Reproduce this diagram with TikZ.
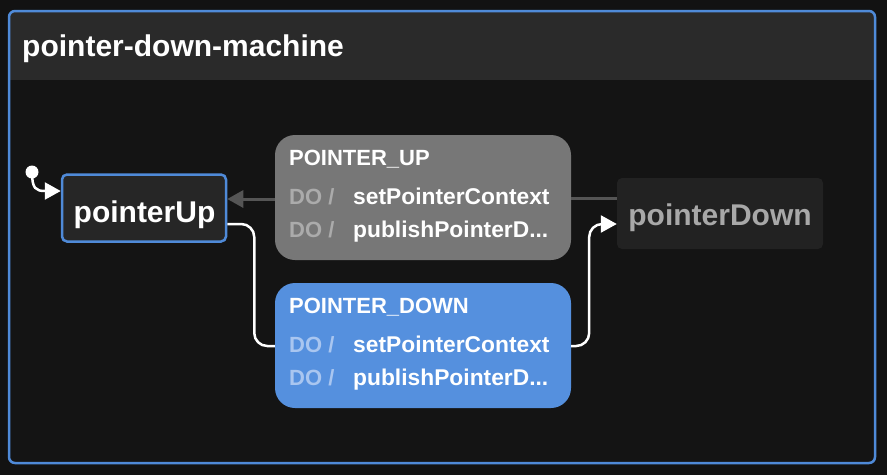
\documentclass[tikz,border=0pt]{standalone}
\usepackage{fontspec}
\setmainfont{Liberation Sans}
\usetikzlibrary{arrows.meta}
\definecolor{pagebg}{HTML}{121212}
\definecolor{bodybg}{HTML}{141414}
\definecolor{headbg}{HTML}{2A2A2A}
\definecolor{frameblue}{HTML}{4F8AD8}
\definecolor{evblue}{HTML}{5590DE}
\definecolor{evgray}{HTML}{777777}
\definecolor{stateA}{HTML}{262626}
\definecolor{stateB}{HTML}{222222}
\definecolor{dimtext}{HTML}{A8A8A8}
\definecolor{dogray}{HTML}{ABABAB}
\definecolor{doblue}{HTML}{A9C6F0}
\definecolor{conngray}{HTML}{555555}
\tikzset{
  bigf/.style={font=\fontsize{30}{35}\selectfont\bfseries, inner sep=0pt},
  smallf/.style={font=\fontsize{22}{26}\selectfont\bfseries, inner sep=0pt},
  actf/.style={font=\fontsize{22.8}{27}\selectfont\bfseries, inner sep=0pt},
  activestate/.style={rectangle, rounded corners=5pt, fill=stateA, draw=frameblue, line width=2.5pt, minimum width=164pt, minimum height=67pt, inner sep=0pt, outer sep=1.25pt},
  plainstate/.style={rectangle, rounded corners=5pt, fill=stateB, minimum width=206pt, minimum height=71pt, inner sep=0pt},
  eventbox/.style={rectangle, rounded corners=20pt, minimum width=296pt, minimum height=125pt, inner sep=0pt},
  grayconn/.style={draw=conngray, line width=3pt},
  whiteconn/.style={draw=white, line width=2.5pt, rounded corners=13pt},
  tipA/.style={-{Triangle[length=16pt,width=17pt]}},
}
\begin{document}
\begin{tikzpicture}[x=1pt,y=-1pt]
\useasboundingbox[fill=pagebg] (0,0) rectangle (887,475);
% machine frame
\node[rectangle, rounded corners=6pt, fill=bodybg, minimum width=866pt, minimum height=452pt, inner sep=0pt] (machine) at (442,237.5) {};
\node[rectangle, fill=headbg, minimum width=866pt, minimum height=64pt, inner sep=0pt] (header) at (442,48) {};
\fill[headbg, rounded corners=6pt] (9,11) rectangle (875,30);
\draw[frameblue, line width=2.5pt, rounded corners=6pt] (9,11) rectangle (875,463);
\node[bigf, anchor=base west, text=white] (title) at (22,56) {pointer-down-machine};

% states
\node[activestate] (pu) at (144,208) {};
\node[bigf, anchor=base, text=white] (putxt) at (144.5,222) {pointerUp};
\node[plainstate] (pdn) at (720,213.5) {};
\node[bigf, anchor=base, text=dimtext] (pdntxt) at (720,225) {pointerDown};

% event boxes
\node[eventbox, fill=evgray] (upbox) at (423,197.5) {};
\node[smallf, anchor=base west, text=white] (uptitle) at (289,165) {POINTER\_UP};
\node[smallf, anchor=base west, text=dogray] (updo1) at (289,204) {DO /};
\node[actf, anchor=base west, text=white] (upact1) at (353,204) {setPointerContext};
\node[smallf, anchor=base west, text=dogray] (updo2) at (289,237) {DO /};
\node[actf, anchor=base west, text=white] (upact2) at (353,237) {publishPointerD...};

\node[eventbox, fill=evblue] (downbox) at (423,345.5) {};
\node[smallf, anchor=base west, text=white] (downtitle) at (289,313) {POINTER\_DOWN};
\node[smallf, anchor=base west, text=doblue] (downdo1) at (289,352) {DO /};
\node[actf, anchor=base west, text=white] (downact1) at (353,352) {setPointerContext};
\node[smallf, anchor=base west, text=doblue] (downdo2) at (289,385) {DO /};
\node[actf, anchor=base west, text=white] (downact2) at (353,385) {publishPointerD...};

% initial state
\node[circle, fill=white, minimum size=13pt, inner sep=0pt] (init) at (32,172) {};
\draw[draw=white, line width=2.5pt, tipA] (init.center) .. controls (32,189) and (36,191) .. ([yshift=17pt]pu.west);

% transitions
\draw[grayconn] ([yshift=15.5pt]pdn.west) -- ([yshift=-0.5pt]upbox.east);
\draw[grayconn, tipA] ([yshift=-1.5pt]upbox.west) -- ([yshift=9pt]pu.east);
\draw[whiteconn] ([yshift=-16pt]pu.east) -- ++(27,0) |- ([yshift=-0.5pt]downbox.west);
\draw[whiteconn, tipA] ([yshift=-0.5pt]downbox.east) -- ++(18,0) |- ([yshift=-10.5pt]pdn.west);
\end{tikzpicture}
\end{document}
